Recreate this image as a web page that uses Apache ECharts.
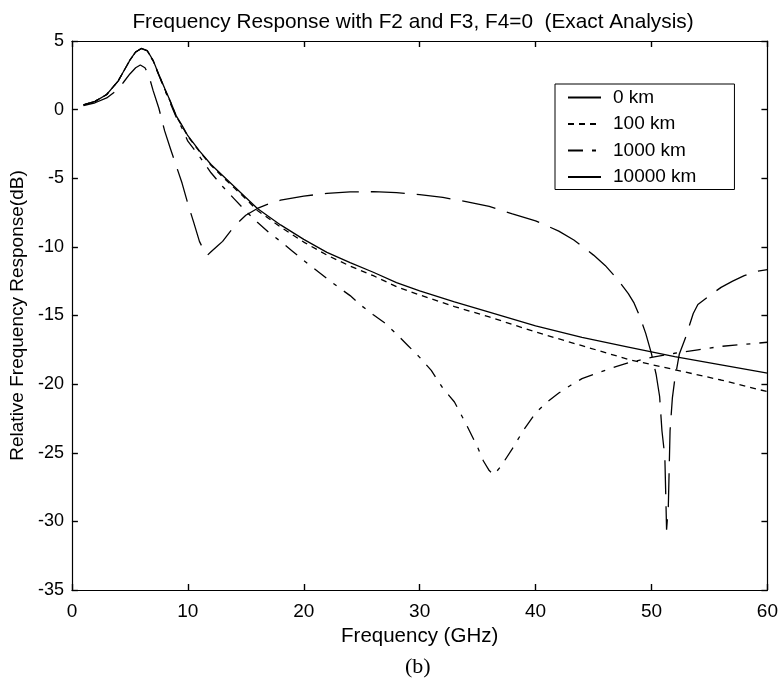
<!DOCTYPE html>
<html><head><meta charset="utf-8">
<script src="https://cdn.jsdelivr.net/npm/echarts@6/dist/echarts.min.js"></script>
<style>html,body{margin:0;padding:0;background:#fff}#c{width:781px;height:690px}</style>
</head><body><div id="c"></div>
<script>
const seriesNames = ['0 km', '100 km', '1000 km', '10000 km'];
const xTicks = [0, 10, 20, 30, 40, 50, 60];
const yTicks = [-35, -30, -25, -20, -15, -10, -5, 0, 5];

const freq0 = [1,2,3,4,4.5,5,5.5,6,6.5,7,7.5,8,8.5,9,9.5,10,11,12,13,14,15,16,18,20,22,24,26,28,30,33,36,40,44,48,52,56,60];
const resp0 = [0.34,0.6,1.1,2.1,2.85,3.6,4.2,4.47,4.3,3.6,2.55,1.55,0.6,-0.45,-1.15,-1.9,-3.0,-4.0,-4.8,-5.6,-6.4,-7.2,-8.4,-9.45,-10.4,-11.15,-11.85,-12.6,-13.2,-14.0,-14.75,-15.75,-16.6,-17.3,-18.0,-18.6,-19.2];

const freq100 = [1,2,3,4,4.5,5,5.5,6,6.5,7,7.5,8,8.5,9,9.5,10,11,12,13,14,15,16,18,20,22,24,26,28,30,33,36,40,44,48,52,56,60];
const resp100 = [0.34,0.6,1.1,2.1,2.85,3.6,4.2,4.45,4.28,3.58,2.55,1.5,0.55,-0.5,-1.2,-1.95,-3.05,-4.05,-4.9,-5.7,-6.5,-7.35,-8.55,-9.65,-10.6,-11.4,-12.1,-12.9,-13.5,-14.35,-15.1,-16.2,-17.2,-18.2,-18.95,-19.7,-20.55];

const freq1000 = [1,2,3,4,4.5,5,5.5,6,6.5,7,7.5,8,8.5,9,9.5,10,11,12,13,14,15,16,17,18,19,20,21,22,23,24,25,26,27,28,29,30,31,32,33,34,35,35.5,36,36.4,37,38,39,40,41,42,43,44,45,46,47,48,49,50,52,54,56,58,60];
const resp1000 = [0.34,0.6,1.1,2.1,2.85,3.6,4.2,4.45,4.28,3.55,2.5,1.45,0.45,-0.55,-1.35,-2.3,-3.4,-4.6,-5.6,-6.5,-7.4,-8.2,-8.95,-9.6,-10.3,-11.0,-11.65,-12.3,-12.95,-13.55,-14.3,-14.95,-15.55,-16.35,-17.2,-18.05,-19.0,-20.3,-21.3,-22.9,-24.6,-25.6,-26.3,-26.6,-26.0,-24.7,-23.3,-22.1,-21.3,-20.65,-20.1,-19.6,-19.3,-19.0,-18.7,-18.45,-18.25,-18.05,-17.75,-17.5,-17.25,-17.1,-16.95];

const freq10000 = [1,2,3,4,4.5,5,5.5,5.9,6.3,6.6,7,7.5,8,8.5,9,9.5,10,10.5,11,11.5,11.7,12,12.6,13,14,15,16,17,18,19,20,22,24,26,28,30,32,34,36,38,40,42,43.3,44,45,46,47,48,48.5,49,49.5,50,50.4,50.7,50.9,51.15,51.3,51.45,51.6,51.8,52,52.4,52.9,53.6,54,55,56,57,58,59,60];
const resp10000 = [0.3,0.5,0.85,1.5,2.05,2.6,3.05,3.25,3.05,2.6,1.4,0.1,-1.55,-2.85,-4.1,-5.35,-6.85,-8.2,-9.6,-10.45,-10.6,-10.35,-9.9,-9.6,-8.5,-7.7,-7.2,-6.85,-6.6,-6.45,-6.3,-6.1,-6.0,-5.98,-6.05,-6.2,-6.4,-6.7,-7.05,-7.6,-8.1,-8.85,-9.5,-9.95,-10.6,-11.35,-12.3,-13.4,-14.1,-15.1,-16.3,-17.8,-19.3,-20.9,-23.4,-25.3,-30.6,-28.9,-23.4,-21.0,-19.7,-17.8,-16.7,-14.85,-14.2,-13.55,-12.95,-12.5,-12.1,-11.8,-11.65];

const FONT = '"Liberation Sans", Arial, sans-serif';
const pairs = (xs, ys) => xs.map((x, i) => [x, ys[i]]);
const dashes = ['solid', [6, 5], [15, 9, 4, 9], [34, 12]];
const allData = [pairs(freq0, resp0), pairs(freq100, resp100), pairs(freq1000, resp1000), pairs(freq10000, resp10000)];

const chart = echarts.init(document.getElementById('c'), null, {renderer: 'canvas'});
function tick() { return {show: true, inside: true, length: 6, lineStyle: {color: '#000', width: 1.4}}; }
function line() { return {show: true, onZero: false, lineStyle: {color: '#000', width: 1.2}}; }
chart.setOption({
  animation: false,
  backgroundColor: '#fff',
  title: {
    text: 'Frequency Response with F2 and F3, F4=0  (Exact Analysis)',
    left: 408, top: 7, textAlign: 'center',
    textStyle: {fontFamily: FONT, fontSize: 20.8, fontWeight: 'normal', color: '#000'}
  },
  grid: {left: 70, right: 13, top: 41, bottom: 100, show: false},
  legend: {
    data: seriesNames,
    orient: 'vertical', left: 555, top: 84,
    itemWidth: 33, itemHeight: 14, itemGap: 7.5,
    padding: [4, 38, 3, 12],
    borderColor: '#000', borderWidth: 1, backgroundColor: '#fff',
    itemStyle: {opacity: 0},
    textStyle: {fontFamily: FONT, fontSize: 19, color: '#000', padding: [0, 0, 0, 7]}
  },
  xAxis: [
    {
      type: 'value', min: 0, max: 60, interval: 10, position: 'bottom',
      axisLine: line(), axisTick: tick(), splitLine: {show: false},
      name: 'Frequency (GHz)', nameLocation: 'middle', nameGap: 34,
      nameTextStyle: {fontFamily: FONT, fontSize: 20.5, color: '#000'},
      axisLabel: {fontFamily: FONT, fontSize: 19, color: '#000', margin: 12,
        formatter: v => xTicks.includes(v) ? String(v) : ''}
    },
    {type: 'value', min: 0, max: 60, interval: 10, position: 'top',
      axisLine: line(), axisTick: tick(), splitLine: {show: false}, axisLabel: {show: false}}
  ],
  yAxis: [
    {
      type: 'value', min: -35, max: 5, interval: 5, position: 'left',
      axisLine: line(), axisTick: tick(), splitLine: {show: false},
      name: 'Relative Frequency Response(dB)', nameLocation: 'middle', nameGap: 42,
      nameTextStyle: {fontFamily: FONT, fontSize: 19, color: '#000'},
      axisLabel: {fontFamily: FONT, fontSize: 18, color: '#000', margin: 8,
        formatter: v => yTicks.includes(v) ? String(v) : ''}
    },
    {type: 'value', min: -35, max: 5, interval: 5, position: 'right',
      axisLine: line(), axisTick: tick(), splitLine: {show: false}, axisLabel: {show: false}}
  ],
  graphic: [{
    type: 'text', left: 405, top: 656,
    style: {text: '(b)', font: '22px "Liberation Serif", "Times New Roman", serif', fill: '#000'}
  }],
  series: seriesNames.map((name, i) => ({
    name, type: 'line', data: allData[i], symbol: 'none', smooth: false,
    xAxisIndex: 0, yAxisIndex: 0,
    lineStyle: {color: '#000', width: 1.3, type: dashes[i]},
    itemStyle: {color: '#000'}
  }))
});
</script></body></html>
